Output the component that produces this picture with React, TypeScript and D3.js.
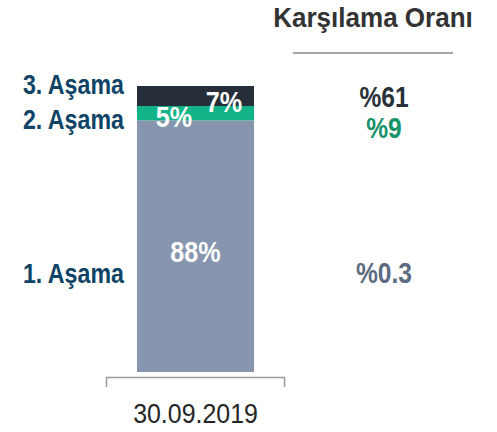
import React from 'react';
import * as d3 from 'd3';

// stages, bottom to top
const stages = ['1. Aşama', '2. Aşama', '3. Aşama'];
const shares = [88, 5, 7];
const coverage = ['%0.3', '%9', '%61'];
const period = '30.09.2019';

const W = 497;
const H = 432;
const FONT = '"Liberation Sans", Arial, sans-serif';

const barColors = ['#8796ae', '#12b386', '#262e39'];
const labelColor = '#0f4466';
const coverageColors = ['#5d6b82', '#17936a', '#2a313b'];

// narrow text: horizontal squeeze around the anchor point
const NText: React.FC<{
  x: number; y: number; sx: number; size: number; fill: string;
  anchor?: 'start' | 'middle' | 'end'; bold?: boolean; children: React.ReactNode;
}> = ({ x, y, sx, size, fill, anchor = 'middle', bold = true, children }) => (
  <g transform={`translate(${x},${y}) scale(${sx},1)`}>
    <text textAnchor={anchor} fill={fill} fontFamily={FONT} fontWeight={bold ? 'bold' : 'normal'} fontSize={size}>
      {children}
    </text>
  </g>
);

const App: React.FC = () => {
  const x = d3.scaleBand().domain([period]).range([106, 285]).paddingInner(0).paddingOuter(0.265);
  const y = d3.scaleLinear().domain([0, 100]).range([372, 86]);

  const stack = d3.cumsum(shares);
  const segs = shares.map((v, i) => ({
    stage: stages[i],
    value: v,
    y0: stack[i] - v,
    y1: stack[i],
  }));

  const bx = x(period) || 0;
  const bw = x.bandwidth();
  const cx = bx + bw / 2;

  // label placement relative to each slice (small slices shifted sideways / down)
  const innerX = [cx, bx + 37, bx + 87];
  const innerBase = [16, 14, 16];
  const stageBase = [37, 16, -2];
  const covBase = [37, 25, 11];

  const mid = (s: { y0: number; y1: number }) => (y(s.y0) + y(s.y1)) / 2;

  return (
    <svg width={W} height={H} style={{ position: 'absolute', left: 0, top: 0 }}>
      <rect width={W} height={H} fill="#fff" />
      {segs.map((s, i) => (
        <rect key={s.stage} x={bx} width={bw} y={y(s.y1)} height={y(s.y0) - y(s.y1)} fill={barColors[i]} />
      ))}
      {segs.map((s, i) => (
        <NText key={'v' + i} x={innerX[i]} y={mid(s) + innerBase[i]} sx={0.84} size={30} fill="#fff">
          {s.value}%
        </NText>
      ))}
      {segs.map((s, i) => (
        <NText key={'s' + i} x={124} y={mid(s) + stageBase[i]} sx={0.86} size={27} fill={labelColor} anchor="end">
          {s.stage}
        </NText>
      ))}
      {segs.map((s, i) => (
        <NText key={'c' + i} x={384} y={mid(s) + covBase[i]} sx={0.82} size={30} fill={coverageColors[i]}>
          {coverage[i]}
        </NText>
      ))}
      {/* axis bracket */}
      <path d="M106.5,387V377.5H284.5V387" fill="none" stroke="#9a9a9a" strokeWidth={1.5} />
      <NText x={cx} y={423} sx={0.89} size={28} fill="#262626" bold={false}>
        {period}
      </NText>
      {/* coverage header */}
      <NText x={373} y={27} sx={0.93} size={28} fill="#333">
        Karşılama Oranı
      </NText>
      <line x1={293} x2={453} y1={53} y2={53} stroke="#8a8a8a" strokeWidth={1.5} />
    </svg>
  );
};

export default App;
